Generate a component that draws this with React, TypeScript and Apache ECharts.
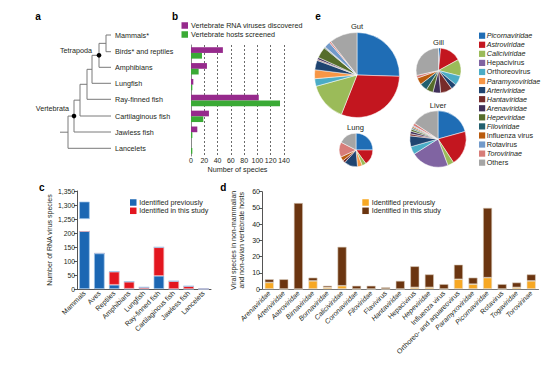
import React, { useEffect, useRef } from 'react';
import * as echarts from 'echarts';

const FONT = "'Liberation Sans', Arial, Helvetica, sans-serif";
const TXT = '#231f20';

// ---- panel a: phylogeny leaves ----
const treeLeaves = ['Mammals*', 'Birds* and reptiles', 'Amphibians', 'Lungfish', 'Ray-finned fish', 'Cartilaginous fish', 'Jawless fish', 'Lancelets'];
const treeClades = ['Tetrapoda', 'Vertebrata'];

// ---- panel b ----
const bHosts = ['Mammals', 'Birds and reptiles', 'Amphibians', 'Ray-finned fish', 'Cartilaginous fish', 'Jawless fish', 'Lancelets'];
const bVirusesDiscovered = [48, 24, 3.5, 102, 27, 9.5, 0];
const bHostsScreened = [16.5, 11.5, 2, 134, 18.5, 2, 2];
const bSeriesNames = ['Vertebrate RNA viruses discovered', 'Vertebrate hosts screened'];

// ---- panel c ----
const cHosts = ['Mammals', 'Aves', 'Reptiles', 'Amphibians', 'Lungfish', 'Ray-finned fish', 'Cartilaginous fish', 'Jawless fish', 'Lancelets'];
const cPrevious = [1312, 127, 15, 1, 1, 47, 0, 0, 0];
const cThisStudy = [0, 0, 47, 25, 5, 102, 28, 10, 0];
const cBreakFrom = 207; // lower segment top (value)
const cBreakTo = 1250; // axis resumes at
const cOffset = 1000; // values above break shown shifted by this
const cTicks = [0, 50, 100, 150, 200, 1250, 1300, 1350];

// ---- panel d ----
const dFamilies = ['Arenaviridae', 'Arteriviridae', 'Astroviridae', 'Birnaviridae', 'Bornaviridae', 'Caliciviridae', 'Coronaviridae', 'Filoviridae', 'Flavivirus', 'Hantaviridae', 'Hepacivirus', 'Hepeviridae', 'Influenza virus', 'Orthoreo- and aquareovirus', 'Paramyxoviridae', 'Picornaviridae', 'Rotavirus', 'Togaviridae', 'Torovirinae'];
const dPrevious = [4, 0, 0, 5, 1, 2, 0, 0, 0, 0, 1, 1, 0, 6, 3, 7, 0, 1, 5];
const dThisStudy = [2, 6, 53, 2, 1, 24, 2, 2, 1, 5, 13, 8, 3, 9, 4, 43, 3, 3, 4];
const legendNames = ['Identified previously', 'Identified in this study'];

// ---- panel e ----
const pieNames = ['Picornaviridae', 'Astroviridae', 'Caliciviridae', 'Hepacivirus', 'Orthoreovirus', 'Paramyxoviridae', 'Arteriviridae', 'Hantaviridae', 'Arenaviridae', 'Hepeviridae', 'Filoviridae', 'Influenza virus', 'Rotavirus', 'Torovirinae', 'Others'];
const gutShare = [25.5, 30.5, 14.7, 0, 2.9, 3.4, 3.6, 0.4, 0.8, 4.2, 0.3, 0.2, 2.3, 0.6, 10.6];
const gillShare = [1.5, 15.5, 12, 0, 7, 0, 4, 8.5, 5.5, 5, 5.5, 5, 0, 2, 28.5];
const liverShare = [20.7, 20, 3.6, 21.7, 4.6, 0, 6.2, 1.2, 1.5, 1.2, 0.8, 0.8, 0.6, 1.5, 15.6];
const lungShare = [25, 15, 4, 0, 0, 4.6, 13, 2.5, 0, 0, 0, 4, 0, 14.5, 17.4];
const tissues = ['Gut', 'Gill', 'Liver', 'Lung'];

// styles
const pieColors = ['#1f6db5', '#c3161f', '#9bbb59', '#8064a2', '#4bacc6', '#f79646', '#1f4470', '#772c2a', '#41305a', '#566d2b', '#215f6e', '#b95a0d', '#729aca', '#d77c78', '#a5a5a5'];
const italicNames = new Set(['Picornaviridae', 'Astroviridae', 'Caliciviridae', 'Paramyxoviridae', 'Arteriviridae', 'Hantaviridae', 'Arenaviridae', 'Hepeviridae', 'Filoviridae', 'Torovirinae', 'Birnaviridae', 'Bornaviridae', 'Coronaviridae', 'Togaviridae']);

function txt(text: string, x: number, y: number, opts: any = {}) {
  return {
    type: 'text',
    silent: true,
    style: {
      text, x, y,
      fill: opts.fill || TXT,
      fontSize: opts.fontSize || 7.2,
      fontFamily: FONT,
      fontStyle: opts.italic ? 'italic' : 'normal',
      fontWeight: opts.bold ? 'bold' : 'normal',
      align: opts.align || 'left',
      verticalAlign: 'middle',
    },
  };
}

function legendBlock(x: number, yStart: number, step: number, names: string[], colors: string[], size: number, textDx: number) {
  const out: any[] = [];
  names.forEach((n, i) => {
    const y = yStart + i * step;
    out.push({ type: 'rect', silent: true, shape: { x, y: y - size / 2, width: size, height: size }, style: { fill: colors[i] } });
    out.push(txt(n, x + textDx, y, { italic: italicNames.has(n) }));
  });
  return out;
}

function buildOption() {
  const graphics: any[] = [];
  // panel letters
  [['a', 38, 16], ['b', 175, 16], ['e', 318, 16], ['c', 41.7, 187], ['d', 223.3, 187]].forEach(([l, x, y]) =>
    graphics.push(txt(l as string, x as number, y as number, { bold: true, fontSize: 10, align: 'center', fill: '#000' })));

  // tree
  const leafY = [35, 51.7, 67.3, 83.3, 99.3, 116, 132, 148.3];
  const leafEnd = 111;
  const nodeX = [106, 99, 92, 87, 80, 74, 68];
  const segs: number[][] = [];
  segs.push([nodeX[0], leafY[0], leafEnd, leafY[0]]);
  segs.push([nodeX[0], leafY[1], leafEnd, leafY[1]]);
  segs.push([nodeX[0], leafY[0], nodeX[0], leafY[1]]);
  let nodeY = (leafY[0] + leafY[1]) / 2;
  const nodeYs: number[] = [nodeY];
  for (let k = 1; k < nodeX.length; k++) {
    const x = nodeX[k];
    const leaf = leafY[k + 1];
    segs.push([x, nodeY, nodeX[k - 1], nodeY]);
    segs.push([x, nodeY, x, leaf]);
    segs.push([x, leaf, leafEnd, leaf]);
    nodeY = (nodeY + leaf) / 2;
    nodeYs.push(nodeY);
  }
  segs.push([60, nodeY, nodeX[nodeX.length - 1], nodeY]);
  segs.forEach(s => graphics.push({ type: 'line', silent: true, shape: { x1: s[0], y1: s[1], x2: s[2], y2: s[3] }, style: { stroke: '#7a7a7a', lineWidth: 1 } }));
  graphics.push({ type: 'circle', silent: true, shape: { cx: nodeX[1], cy: nodeYs[1], r: 2.3 }, style: { fill: '#000' } });
  graphics.push({ type: 'circle', silent: true, shape: { cx: nodeX[5], cy: nodeYs[5], r: 2.3 }, style: { fill: '#000' } });
  treeLeaves.forEach((n, i) => graphics.push(txt(n, 115, leafY[i])));
  graphics.push(txt(treeClades[0], 92, 50, { align: 'right' }));
  graphics.push(txt(treeClades[1], 69, 108.5, { align: 'right' }));

  // legends
  graphics.push(...legendBlock(181.5, 25.5, 9, bSeriesNames, ['#962a8c', '#3aaa35'], 6.5, 9.5));
  graphics.push(...legendBlock(130, 202.5, 8.3, legendNames, ['#1c67b3', '#e3161f'], 6.5, 9.3));
  graphics.push(...legendBlock(362.3, 202.5, 8.3, legendNames, ['#f7a823', '#6b3510'], 6.5, 9.4));
  graphics.push(...legendBlock(479, 35.7, 9.07, pieNames, pieColors, 6.2, 7.7));

  // pies
  const pieGeo = [
    { c: [357, 75], r: 42.5, label: [357, 26] },
    { c: [438.5, 70.5], r: 22.5, label: [438.5, 42.7] },
    { c: [438, 139], r: 28.2, label: [438, 105] },
    { c: [356, 150], r: 16.8, label: [355.5, 127] },
  ];
  const shares = [gutShare, gillShare, liverShare, lungShare];
  tissues.forEach((t, i) => graphics.push(txt(t, pieGeo[i].label[0], pieGeo[i].label[1], { align: 'center', fontSize: 7.6 })));

  const axisLabelBase = { fontSize: 7, fontFamily: FONT, color: TXT };

  const pieSeries = tissues.map((t, i) => ({
    type: 'pie',
    name: t,
    center: pieGeo[i].c,
    radius: pieGeo[i].r,
    startAngle: 90,
    clockwise: true,
    label: { show: false },
    labelLine: { show: false },
    silent: true,
    itemStyle: { borderColor: '#ffffff', borderWidth: 0.5 },
    data: pieNames.map((n, k) => ({ name: n, value: shares[i][k], itemStyle: { color: pieColors[k] } })).filter(d => d.value > 0),
  }));

  const cPrevLow = cPrevious.map(v => (v > cBreakTo ? cBreakFrom : v));
  const cGap = cPrevious.map(v => (v > cBreakTo ? cBreakTo - cOffset - cBreakFrom : 0));
  const cPrevHigh = cPrevious.map(v => (v > cBreakTo ? v - cBreakTo : 0));

  return {
    animation: false,
    textStyle: { fontFamily: FONT },
    grid: [
      { left: 191, top: 45, width: 93, height: 111 },
      { left: 77, top: 191, width: 134, height: 98 },
      { left: 262, top: 191.7, width: 276.5, height: 97.3 },
    ],
    xAxis: [
      {
        gridIndex: 0, type: 'value', min: 0, max: 140, interval: 20,
        name: 'Number of species', nameLocation: 'middle', nameGap: 10,
        nameTextStyle: { fontSize: 7.2, fontFamily: FONT, color: TXT },
        axisLine: { show: false }, axisTick: { show: false },
        axisLabel: { ...axisLabelBase, margin: 1 },
        splitLine: { show: true, lineStyle: { color: '#444', type: [2, 2], width: 0.8 } },
      },
      {
        gridIndex: 1, type: 'category', data: cHosts,
        axisLine: { lineStyle: { color: '#555', width: 1 } }, axisTick: { show: false },
        axisLabel: { ...axisLabelBase, interval: 0, rotate: 45, margin: 3 },
      },
      {
        gridIndex: 2, type: 'category', data: dFamilies,
        axisLine: { lineStyle: { color: '#777', width: 1 } }, axisTick: { show: false },
        axisLabel: {
          ...axisLabelBase, interval: 0, rotate: 45, margin: 3,
          formatter: (v: string) => (italicNames.has(v) ? `{i|${v}}` : `{n|${v}}`),
          rich: {
            i: { fontStyle: 'italic', fontSize: 7, fontFamily: FONT, color: TXT },
            n: { fontSize: 7, fontFamily: FONT, color: TXT },
          },
        },
      },
    ],
    yAxis: [
      {
        gridIndex: 0, type: 'category', data: bHosts, inverse: true,
        axisLine: { show: true, lineStyle: { color: '#888', width: 1 } },
        axisTick: { show: false }, axisLabel: { show: false },
      },
      {
        gridIndex: 1, type: 'value', min: 0, max: 350, interval: 50,
        name: 'Number of RNA virus species', nameLocation: 'middle', nameGap: 24,
        nameTextStyle: { fontSize: 7, fontFamily: FONT, color: TXT },
        axisLine: { show: true, lineStyle: { color: '#555' } },
        axisTick: { show: true, length: 3, lineStyle: { color: '#555' } },
        axisLabel: {
          ...axisLabelBase, margin: 2, fontSize: 6.8,
          formatter: (v: number) => {
            const real = v > cBreakFrom ? v + cOffset : v;
            return cTicks.includes(real) ? real.toLocaleString('en-US') : '';
          },
        },
        splitLine: { show: false },
      },
      {
        gridIndex: 2, type: 'value', min: 0, max: 60, interval: 10,
        name: 'Viral species in non-mammalian\nand non-avian vertebrate hosts', nameLocation: 'middle', nameGap: 17,
        nameTextStyle: { fontSize: 7, fontFamily: FONT, color: TXT, lineHeight: 7.5 },
        axisLine: { show: true, lineStyle: { color: '#555' } },
        axisTick: { show: true, length: 3, lineStyle: { color: '#555' } },
        axisLabel: { ...axisLabelBase, margin: 2 },
        splitLine: { show: false },
      },
    ],
    series: [
      {
        type: 'bar', name: bSeriesNames[0], xAxisIndex: 0, yAxisIndex: 0, data: bVirusesDiscovered,
        barWidth: 5.7, barGap: '0%', itemStyle: { color: '#962a8c' }, silent: true,
      },
      {
        type: 'bar', name: bSeriesNames[1], xAxisIndex: 0, yAxisIndex: 0, data: bHostsScreened,
        barWidth: 5.7, barGap: '0%', itemStyle: { color: '#3aaa35' }, silent: true,
      },
      {
        type: 'bar', name: legendNames[0], xAxisIndex: 1, yAxisIndex: 1, stack: 'c', data: cPrevLow,
        barWidth: 10.5, itemStyle: { color: '#1c67b3', borderColor: '#9fc4e8', borderWidth: 0.7 }, silent: true,
      },
      {
        type: 'bar', name: legendNames[1], xAxisIndex: 1, yAxisIndex: 1, stack: 'c', data: cThisStudy,
        barWidth: 10.5, itemStyle: { color: '#e3161f', borderColor: '#f3a0a3', borderWidth: 0.7 }, silent: true,
      },
      {
        type: 'bar', name: 'axis break', xAxisIndex: 1, yAxisIndex: 1, stack: 'c', data: cGap,
        barWidth: 10.5, itemStyle: { color: '#ffffff' }, silent: true,
      },
      {
        type: 'bar', name: legendNames[0] + ' (above break)', xAxisIndex: 1, yAxisIndex: 1, stack: 'c', data: cPrevHigh,
        barWidth: 10.5, itemStyle: { color: '#1c67b3', borderColor: '#9fc4e8', borderWidth: 0.7 }, silent: true,
      },
      {
        type: 'bar', name: legendNames[0] + ' (d)', xAxisIndex: 2, yAxisIndex: 2, stack: 'd', data: dPrevious,
        barWidth: 9, itemStyle: { color: '#f7a823', borderColor: '#e6dccb', borderWidth: 0.6 }, silent: true,
      },
      {
        type: 'bar', name: legendNames[1] + ' (d)', xAxisIndex: 2, yAxisIndex: 2, stack: 'd', data: dThisStudy,
        barWidth: 9, itemStyle: { color: '#6b3510', borderColor: '#d9cbbb', borderWidth: 0.6 }, silent: true,
      },
      ...pieSeries,
    ],
    graphic: graphics,
  };
}

export default function App() {
  const ref = useRef<HTMLDivElement>(null);
  useEffect(() => {
    const chart = echarts.init(ref.current!, null, { renderer: 'svg' });
    chart.setOption(buildOption() as any);
    return () => chart.dispose();
  }, []);
  return <div ref={ref} style={{ position: 'fixed', left: 0, top: 0, width: 554, height: 366, background: '#fff' }} />;
}
